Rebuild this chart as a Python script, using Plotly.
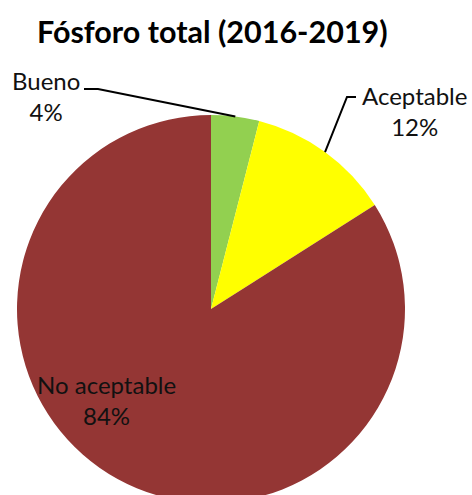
import math
import plotly.graph_objects as go

# Data
labels = ["Bueno", "Aceptable", "No aceptable"]
values = [4, 12, 84]
colors = ["#92D050", "#FFFF00", "#943634"]
title_text = "Fósforo total (2016-2019)"

W, H = 472, 520
CX, CY, R = 211, 309, 194
FONT = "Lato"


def px(x, y):
    return x / W, 1 - y / H


fig = go.Figure(
    go.Pie(
        labels=labels,
        values=values,
        marker=dict(colors=colors, line=dict(width=0)),
        sort=False,
        direction="clockwise",
        rotation=0,
        textinfo="none",
        hoverinfo="skip",
        showlegend=False,
        domain=dict(x=[(CX - R) / W, (CX + R) / W], y=[1 - (CY + R) / H, 1 - (CY - R) / H]),
    )
)

total = sum(values)
cum = 0
mids = []
for v in values:
    mids.append((cum + v / 2) / total * 2 * math.pi)
    cum += v


def edge(a):
    return CX + R * math.sin(a), CY - R * math.cos(a)


def path(points):
    s = ""
    for i, (x, y) in enumerate(points):
        X, Y = px(x, y)
        s += ("M" if i == 0 else " L") + f" {X} {Y}"
    return s


bx, by = edge(mids[0])
ax_, ay_ = edge(mids[1])
shapes = [
    dict(type="path", xref="paper", yref="paper", path=path([(84, 89), (98, 89), (bx, by)]),
         line=dict(color="black", width=2)),
    dict(type="path", xref="paper", yref="paper", path=path([(ax_, ay_), (347, 97), (356, 97)]),
         line=dict(color="black", width=2)),
]

pcts = [f"{round(v / total * 100)}%" for v in values]
label_pos = [(46, 96), (414, 111), (106, 400)]
annotations = []
for (x, y), lab, p in zip(label_pos, labels, pcts):
    X, Y = px(x, y)
    annotations.append(dict(x=X, y=Y, xref="paper", yref="paper", text=f"{lab}<br>{p}",
                            showarrow=False, xanchor="center", yanchor="middle",
                            font=dict(family=FONT, size=24, color="#111111")))
TX, TY = px(212.5, 31)
annotations.append(dict(x=TX, y=TY, xref="paper", yref="paper", text=f"<b>{title_text}</b>",
                        showarrow=False, xanchor="center", yanchor="middle",
                        font=dict(family=FONT, size=30.5, color="black")))

fig.update_layout(
    width=W, height=H,
    margin=dict(l=0, r=0, t=0, b=0),
    paper_bgcolor="white", plot_bgcolor="white",
    shapes=shapes, annotations=annotations,
)

fig.write_html(
    "out.html",
    config={"displayModeBar": False},
    post_script="document.body.style.margin='0';document.body.style.overflow='hidden';document.documentElement.style.overflow='hidden';",
)
